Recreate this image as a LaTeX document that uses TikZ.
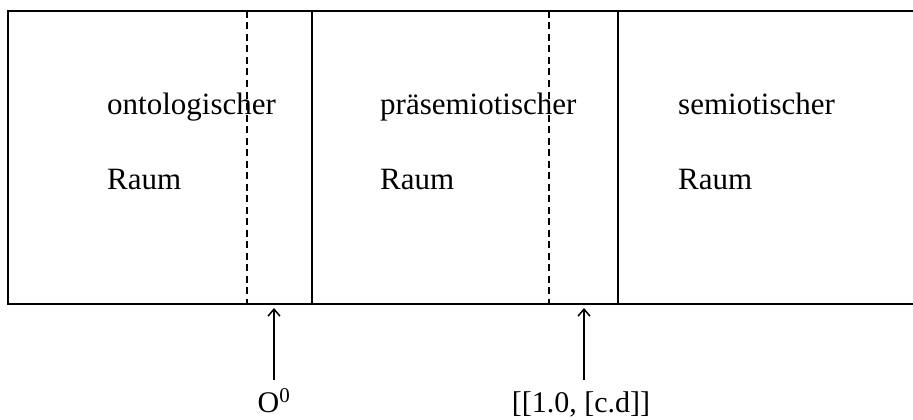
\documentclass[tikz,border=0pt]{standalone}
\usepackage{fontspec}
\setmainfont{Liberation Serif}
\usetikzlibrary{arrows.meta}
\begin{document}
\begin{tikzpicture}[x=1pt,y=-1pt,
  frame/.style={line width=1.6pt},
  border/.style={line width=1.5pt, dash pattern=on 7pt off 4.5pt},
  word/.style={anchor=base west, inner sep=0pt, font=\fontsize{31}{31}\selectfont},
  pointlabel/.style={anchor=base, inner sep=0pt, font=\fontsize{30}{30}\selectfont},
  pointer/.style={line width=1.5pt, -{Straight Barb[length=7pt,width=12pt,line width=1.5pt]}}]
  \useasboundingbox (0,0) rectangle (913,420);
  % outer frame, open to the right
  \draw[frame] (920,11) -- (8,11) -- (8,304) -- (920,304);
  % solid partitions between the three spaces
  \draw[frame] (312,11) -- (312,304);
  \draw[frame] (618,11) -- (618,304);
  % dashed transition lines
  \draw[border] (247,11) -- (247,304);
  \draw[border] (549,11) -- (549,304);
  % space labels
  \node[word] (ont1) at (107,114) {ontologischer};
  \node[word] (ont2) at (107,189) {Raum};
  \node[word] (pre1) at (380,114) {präsemiotischer};
  \node[word] (pre2) at (380,189) {Raum};
  \node[word] (sem1) at (678,114) {semiotischer};
  \node[word] (sem2) at (678,189) {Raum};
  % boundary markers
  \node[pointlabel] (o0) at (274,412) {O\textsuperscript{0}};
  \node[pointlabel] (cd) at (581,412) {[[1.0, [c.d]]};
  \coordinate (o0top) at (274,380);
  \coordinate (o0tip) at (274,308);
  \coordinate (cdtop) at (584,380);
  \coordinate (cdtip) at (584,308);
  \draw[pointer] (o0top) -- (o0tip);
  \draw[pointer] (cdtop) -- (cdtip);
\end{tikzpicture}
\end{document}
